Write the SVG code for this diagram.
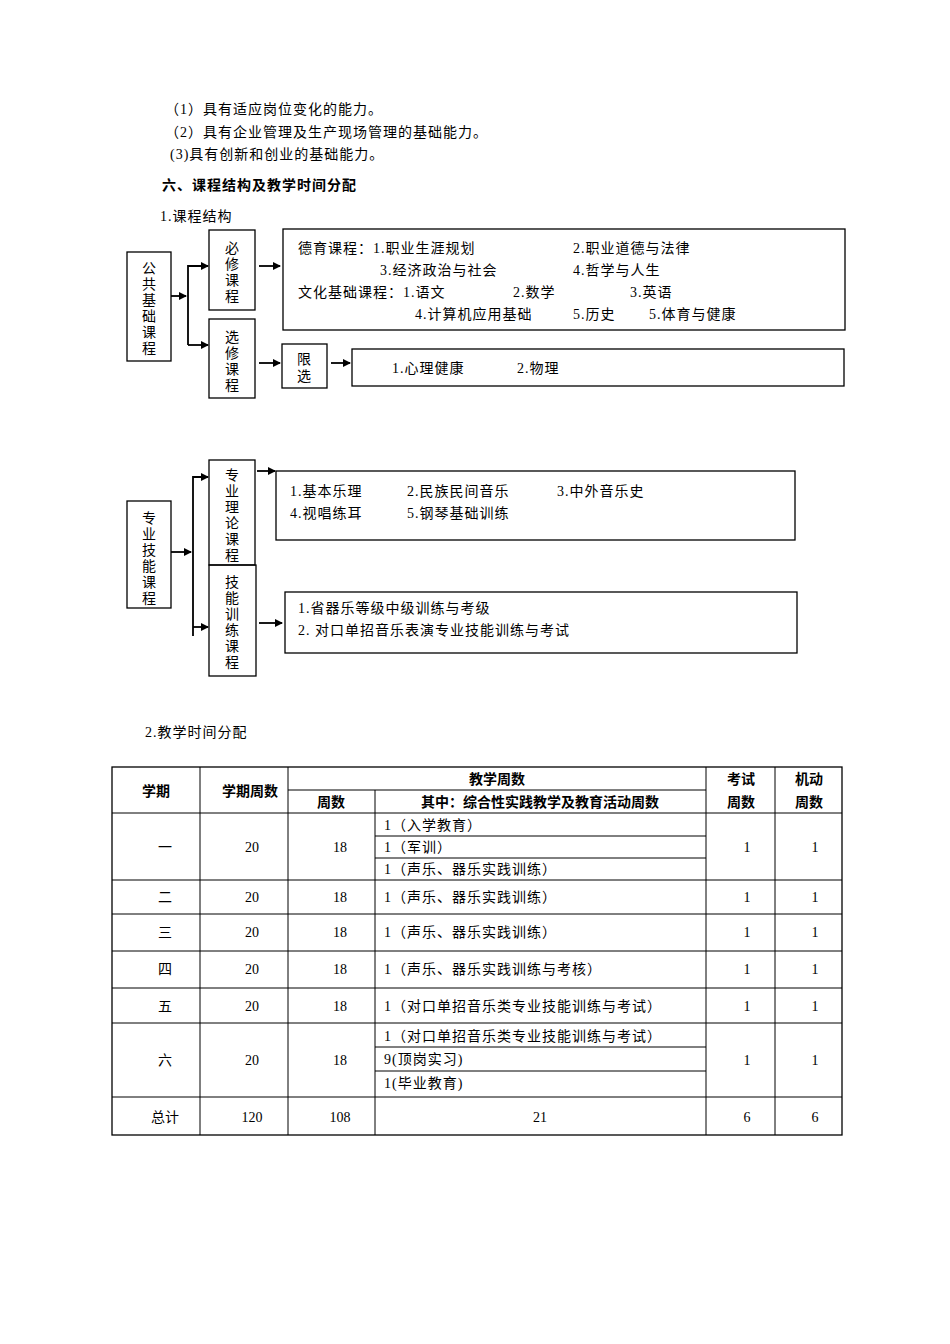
<svg xmlns="http://www.w3.org/2000/svg" width="950" height="1344" viewBox="0 0 950 1344">
<defs>
<style>
text{font-family:"Liberation Serif","Noto Sans CJK SC",serif;font-size:14px;fill:#000;letter-spacing:1px}
.b{font-weight:bold}
.box{fill:none;stroke:#000;stroke-width:1.3}
.ln{fill:none;stroke:#000;stroke-width:1.8}
.tl{stroke:#000;stroke-width:1}
.m{text-anchor:middle;letter-spacing:0}
</style>
<marker id="a" markerWidth="8" markerHeight="8" refX="7" refY="4" orient="auto" markerUnits="userSpaceOnUse"><path d="M0,0 L8,4 L0,8 z" fill="#000"/></marker>
</defs>
<rect width="950" height="1344" fill="#fff"/>
<text x="165" y="114">（1）具有适应岗位变化的能力。</text>
<text x="165" y="137">（2）具有企业管理及生产现场管理的基础能力。</text>
<text x="170" y="159">(3)具有创新和创业的基础能力。</text>
<text x="162" y="190" class="b">六、课程结构及教学时间分配</text>
<text x="160" y="221">1.课程结构</text>

<g id="n1"><rect class="box" x="127" y="252" width="44" height="109"/>
<text class="m" x="149" y="273">公</text><text class="m" x="149" y="289">共</text><text class="m" x="149" y="305">基</text><text class="m" x="149" y="321">础</text><text class="m" x="149" y="337">课</text><text class="m" x="149" y="353">程</text></g>
<g id="n2"><rect class="box" x="209" y="230" width="46" height="80"/>
<text class="m" x="232" y="253">必</text><text class="m" x="232" y="269">修</text><text class="m" x="232" y="285">课</text><text class="m" x="232" y="301">程</text></g>
<g id="n3"><rect class="box" x="209" y="319" width="46" height="79"/>
<text class="m" x="232" y="342">选</text><text class="m" x="232" y="358">修</text><text class="m" x="232" y="374">课</text><text class="m" x="232" y="390">程</text></g>
<g id="n4"><rect class="box" x="283" y="229" width="562" height="101"/>
<text x="298" y="253">德育课程：1.职业生涯规划</text><text x="573" y="253">2.职业道德与法律</text>
<text x="380" y="275">3.经济政治与社会</text><text x="573" y="275">4.哲学与人生</text>
<text x="298" y="297">文化基础课程：1.语文</text><text x="513" y="297">2.数学</text><text x="630" y="297">3.英语</text>
<text x="415" y="319">4.计算机应用基础</text><text x="573" y="319">5.历史</text><text x="649" y="319">5.体育与健康</text></g>
<g id="n5"><rect class="box" x="282" y="344" width="45" height="44"/>
<text class="m" x="304" y="364">限</text><text class="m" x="304" y="381">选</text></g>
<g id="n6"><rect class="box" x="352" y="349" width="492" height="37"/>
<text x="392" y="373">1.心理健康</text><text x="517" y="373">2.物理</text></g>

<g id="n7"><rect class="box" x="127" y="501" width="44" height="107"/>
<text class="m" x="149" y="523">专</text><text class="m" x="149" y="539">业</text><text class="m" x="149" y="555">技</text><text class="m" x="149" y="571">能</text><text class="m" x="149" y="587">课</text><text class="m" x="149" y="603">程</text></g>
<g id="n8"><rect class="box" x="209" y="460" width="46" height="105"/>
<text class="m" x="232" y="480">专</text><text class="m" x="232" y="496">业</text><text class="m" x="232" y="512">理</text><text class="m" x="232" y="528">论</text><text class="m" x="232" y="544">课</text><text class="m" x="232" y="560">程</text></g>
<g id="n9"><rect class="box" x="209" y="565" width="47" height="111"/>
<text class="m" x="232" y="587">技</text><text class="m" x="232" y="603">能</text><text class="m" x="232" y="619">训</text><text class="m" x="232" y="635">练</text><text class="m" x="232" y="651">课</text><text class="m" x="232" y="667">程</text></g>
<g id="n10"><rect class="box" x="276" y="471" width="519" height="69"/>
<text x="290" y="496">1.基本乐理</text><text x="407" y="496">2.民族民间音乐</text><text x="557" y="496">3.中外音乐史</text>
<text x="290" y="518">4.视唱练耳</text><text x="407" y="518">5.钢琴基础训练</text></g>
<g id="n11"><rect class="box" x="285" y="592" width="512" height="61"/>
<text x="298" y="613">1.省器乐等级中级训练与考级</text><text x="298" y="635">2.  对口单招音乐表演专业技能训练与考试</text></g>

<g id="connectors">
<path class="ln" d="M171,296 H186" marker-end="url(#a)"/>
<path class="ln" d="M188,345 V266 H208" marker-end="url(#a)"/>
<path class="ln" d="M188,345 H208" marker-end="url(#a)"/>
<path class="ln" d="M259,266 H280" marker-end="url(#a)"/>
<path class="ln" d="M259,363 H280" marker-end="url(#a)"/>
<path class="ln" d="M331,363 H350" marker-end="url(#a)"/>
<path class="ln" d="M171,552 H191" marker-end="url(#a)"/>
<path class="ln" d="M193,636 V477 H208" marker-end="url(#a)"/>
<path class="ln" d="M193,627 H208" marker-end="url(#a)"/>
<path class="ln" d="M257,471 H275" marker-end="url(#a)"/>
<path class="ln" d="M259,623 H282" marker-end="url(#a)"/>
</g>

<text x="145" y="737">2.教学时间分配</text>
<g id="table">
<rect x="112" y="767" width="730" height="368" fill="none" stroke="#000" stroke-width="1.3"/>
<g class="tl">
<line x1="200" y1="767" x2="200" y2="1135"/><line x1="288" y1="767" x2="288" y2="1135"/>
<line x1="375" y1="790" x2="375" y2="1135"/><line x1="706" y1="767" x2="706" y2="1135"/><line x1="775" y1="767" x2="775" y2="1135"/>
<line x1="288" y1="790" x2="706" y2="790"/>
<line x1="112" y1="813" x2="842" y2="813"/>
<line x1="375" y1="836" x2="706" y2="836"/><line x1="375" y1="858" x2="706" y2="858"/>
<line x1="112" y1="880" x2="842" y2="880"/><line x1="112" y1="914" x2="842" y2="914"/>
<line x1="112" y1="951" x2="842" y2="951"/><line x1="112" y1="988" x2="842" y2="988"/>
<line x1="112" y1="1023" x2="842" y2="1023"/>
<line x1="375" y1="1047" x2="706" y2="1047"/><line x1="375" y1="1071" x2="706" y2="1071"/>
<line x1="112" y1="1097" x2="842" y2="1097"/>
</g>
<text class="m b" x="156" y="796">学期</text><text class="m b" x="250" y="796">学期周数</text>
<text class="m b" x="497" y="784">教学周数</text><text class="m b" x="331" y="807">周数</text>
<text class="m b" x="540" y="807">其中：综合性实践教学及教育活动周数</text>
<text class="m b" x="741" y="784">考试</text><text class="m b" x="741" y="807">周数</text>
<text class="m b" x="809" y="784">机动</text><text class="m b" x="809" y="807">周数</text>
<text class="m" x="165" y="852">一</text><text class="m" x="252" y="852">20</text><text class="m" x="340" y="852">18</text><text class="m" x="747" y="852">1</text><text class="m" x="815" y="852">1</text>
<text x="384" y="830">1（入学教育）</text><text x="384" y="852">1（军训）</text><text x="384" y="874">1（声乐、器乐实践训练）</text>
<text class="m" x="165" y="902">二</text><text class="m" x="252" y="902">20</text><text class="m" x="340" y="902">18</text><text x="384" y="902">1（声乐、器乐实践训练）</text><text class="m" x="747" y="902">1</text><text class="m" x="815" y="902">1</text>
<text class="m" x="165" y="937">三</text><text class="m" x="252" y="937">20</text><text class="m" x="340" y="937">18</text><text x="384" y="937">1（声乐、器乐实践训练）</text><text class="m" x="747" y="937">1</text><text class="m" x="815" y="937">1</text>
<text class="m" x="165" y="974">四</text><text class="m" x="252" y="974">20</text><text class="m" x="340" y="974">18</text><text x="384" y="974">1（声乐、器乐实践训练与考核）</text><text class="m" x="747" y="974">1</text><text class="m" x="815" y="974">1</text>
<text class="m" x="165" y="1011">五</text><text class="m" x="252" y="1011">20</text><text class="m" x="340" y="1011">18</text><text x="384" y="1011">1（对口单招音乐类专业技能训练与考试）</text><text class="m" x="747" y="1011">1</text><text class="m" x="815" y="1011">1</text>
<text class="m" x="165" y="1065">六</text><text class="m" x="252" y="1065">20</text><text class="m" x="340" y="1065">18</text><text class="m" x="747" y="1065">1</text><text class="m" x="815" y="1065">1</text>
<text x="384" y="1041">1（对口单招音乐类专业技能训练与考试）</text><text x="384" y="1064">9(顶岗实习)</text><text x="384" y="1088">1(毕业教育)</text>
<text class="m" x="165" y="1122">总计</text><text class="m" x="252" y="1122">120</text><text class="m" x="340" y="1122">108</text><text class="m" x="540" y="1122">21</text><text class="m" x="747" y="1122">6</text><text class="m" x="815" y="1122">6</text>
</g>
</svg>
